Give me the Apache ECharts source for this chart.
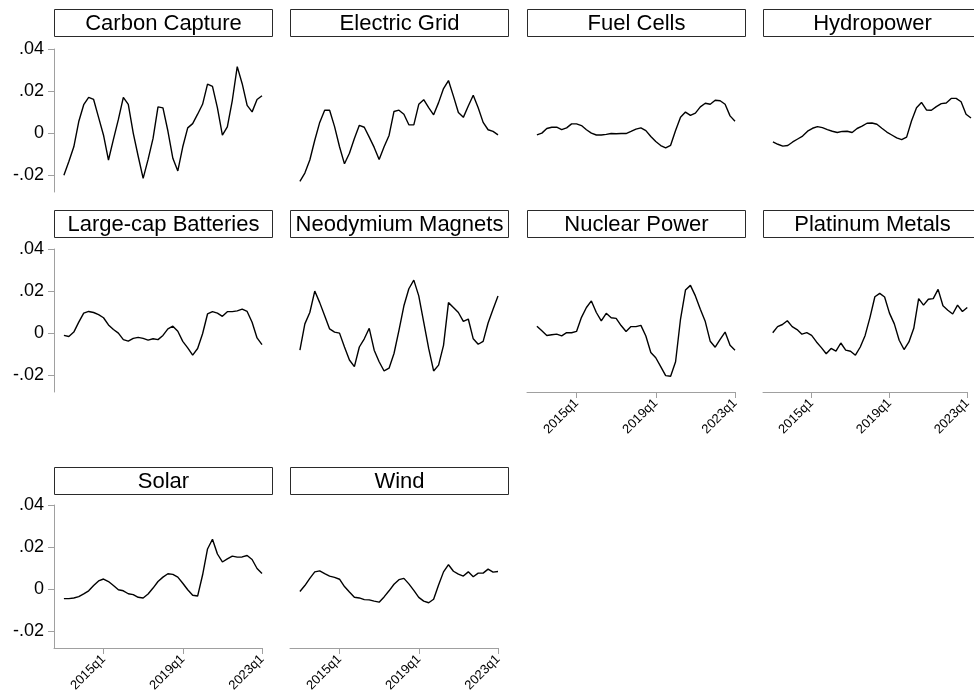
<!DOCTYPE html>
<html>
<head>
<meta charset="utf-8">
<script src="https://cdn.jsdelivr.net/npm/echarts@6/dist/echarts.min.js"></script>
<style>
  html, body { margin: 0; padding: 0; background: #fff; }
  #chart { width: 974px; height: 696px; }
</style>
</head>
<body>
<div id="chart"></div>
<script>
// Quarterly observations, 2013q1 – 2023q1
const quarters = [
  '2013q1','2013q2','2013q3','2013q4','2014q1','2014q2','2014q3','2014q4',
  '2015q1','2015q2','2015q3','2015q4','2016q1','2016q2','2016q3','2016q4',
  '2017q1','2017q2','2017q3','2017q4','2018q1','2018q2','2018q3','2018q4',
  '2019q1','2019q2','2019q3','2019q4','2020q1','2020q2','2020q3','2020q4',
  '2021q1','2021q2','2021q3','2021q4','2022q1','2022q2','2022q3','2022q4',
  '2023q1'
];

const panelNames = [
  'Carbon Capture', 'Electric Grid', 'Fuel Cells', 'Hydropower',
  'Large-cap Batteries', 'Neodymium Magnets', 'Nuclear Power', 'Platinum Metals',
  'Solar', 'Wind'
];

const carbonCapture = [
  -0.0200, -0.0135, -0.0065, 0.0055, 0.0135, 0.0170, 0.0160, 0.0075, -0.0010, -0.0128,
  -0.0030, 0.0065, 0.0170, 0.0137, 0.0000, -0.0110, -0.0215, -0.0125, -0.0025, 0.0125,
  0.0120, 0.0010, -0.0120, -0.0180, -0.0065, 0.0025, 0.0045, 0.0090, 0.0137, 0.0233,
  0.0222, 0.0120, -0.0010, 0.0030, 0.0155, 0.0316, 0.0235, 0.0132, 0.0101, 0.0160,
  0.0178
];
const electricGrid = [
  -0.0229, -0.0190, -0.0128, -0.0034, 0.0051, 0.0109, 0.0109, 0.0031, -0.0065, -0.0146,
  -0.0096, -0.0026, 0.0037, 0.0028, -0.0019, -0.0068, -0.0125, -0.0065, -0.0011, 0.0103,
  0.0109, 0.0090, 0.0040, 0.0039, 0.0137, 0.0159, 0.0121, 0.0087, 0.0145, 0.0212,
  0.0250, 0.0176, 0.0098, 0.0075, 0.0129, 0.0180, 0.0121, 0.0051, 0.0016, 0.0008,
  -0.0008
];
const fuelCells = [
  -0.0008, 0.0000, 0.0022, 0.0028, 0.0028, 0.0017, 0.0025, 0.0044, 0.0044, 0.0036,
  0.0016, 0.0000, -0.0009, -0.0009, -0.0006, -0.0002, -0.0003, -0.0002, -0.0002, 0.0008,
  0.0019, 0.0025, 0.0012, -0.0016, -0.0040, -0.0059, -0.0070, -0.0058, 0.0012, 0.0075,
  0.0100, 0.0084, 0.0095, 0.0125, 0.0142, 0.0137, 0.0156, 0.0154, 0.0137, 0.0082,
  0.0056
];
const hydropower = [
  -0.0042, -0.0053, -0.0062, -0.0059, -0.0042, -0.0028, -0.0014, 0.0009, 0.0023, 0.0031,
  0.0026, 0.0017, 0.0009, 0.0003, 0.0008, 0.0009, 0.0003, 0.0022, 0.0033, 0.0047,
  0.0048, 0.0042, 0.0023, 0.0005, -0.0009, -0.0023, -0.0031, -0.0019, 0.0059, 0.0121,
  0.0146, 0.0110, 0.0109, 0.0126, 0.0140, 0.0143, 0.0165, 0.0165, 0.0149, 0.0090,
  0.0072
];
const largeCapBatteries = [
  -0.0011, -0.0016, 0.0005, 0.0052, 0.0095, 0.0103, 0.0098, 0.0088, 0.0073, 0.0039,
  0.0017, 0.0000, -0.0031, -0.0038, -0.0025, -0.0020, -0.0025, -0.0033, -0.0027, -0.0031,
  -0.0011, 0.0020, 0.0033, 0.0009, -0.0039, -0.0070, -0.0105, -0.0073, -0.0003, 0.0091,
  0.0102, 0.0095, 0.0080, 0.0102, 0.0102, 0.0106, 0.0114, 0.0103, 0.0052, -0.0023,
  -0.0055
];
const neodymiumMagnets = [
  -0.0081, 0.0044, 0.0098, 0.0200, 0.0145, 0.0083, 0.0020, 0.0005, 0.0000, -0.0066,
  -0.0128, -0.0159, -0.0066, -0.0027, 0.0023, -0.0081, -0.0136, -0.0180, -0.0167, -0.0097,
  0.0013, 0.0130, 0.0211, 0.0252, 0.0177, 0.0052, -0.0073, -0.0180, -0.0152, -0.0058,
  0.0145, 0.0122, 0.0098, 0.0056, 0.0067, -0.0027, -0.0053, -0.0039, 0.0048, 0.0114,
  0.0177
];
const nuclearPower = [
  0.0033, 0.0011, -0.0011, -0.0008, -0.0005, -0.0013, 0.0002, 0.0002, 0.0008, 0.0075,
  0.0122, 0.0153, 0.0098, 0.0058, 0.0094, 0.0073, 0.0070, 0.0036, 0.0008, 0.0031,
  0.0031, 0.0037, -0.0014, -0.0092, -0.0117, -0.0159, -0.0202, -0.0205, -0.0136, 0.0067,
  0.0205, 0.0227, 0.0177, 0.0114, 0.0055, -0.0039, -0.0067, -0.0030, 0.0005, -0.0058,
  -0.0081
];
const platinumMetals = [
  0.0002, 0.0031, 0.0041, 0.0059, 0.0031, 0.0017, -0.0005, 0.0002, -0.0011, -0.0042,
  -0.0069, -0.0098, -0.0073, -0.0086, -0.0047, -0.0081, -0.0086, -0.0105, -0.0066, -0.0011,
  0.0075, 0.0173, 0.0189, 0.0172, 0.0095, 0.0044, -0.0034, -0.0078, -0.0042, 0.0023,
  0.0164, 0.0133, 0.0161, 0.0164, 0.0208, 0.0130, 0.0109, 0.0091, 0.0133, 0.0103,
  0.0122
];
const solar = [
  -0.0045, -0.0045, -0.0042, -0.0036, -0.0023, -0.0008, 0.0017, 0.0039, 0.0048, 0.0036,
  0.0017, -0.0003, -0.0008, -0.0022, -0.0026, -0.0039, -0.0042, -0.0023, 0.0005, 0.0036,
  0.0057, 0.0073, 0.0070, 0.0057, 0.0028, -0.0003, -0.0029, -0.0033, 0.0067, 0.0191,
  0.0237, 0.0167, 0.0129, 0.0144, 0.0157, 0.0152, 0.0153, 0.0160, 0.0141, 0.0098,
  0.0074
];
const wind = [
  -0.0011, 0.0017, 0.0051, 0.0082, 0.0087, 0.0074, 0.0062, 0.0056, 0.0047, 0.0012,
  -0.0014, -0.0039, -0.0042, -0.0050, -0.0051, -0.0057, -0.0062, -0.0037, -0.0008, 0.0023,
  0.0045, 0.0051, 0.0025, -0.0006, -0.0039, -0.0057, -0.0065, -0.0048, 0.0020, 0.0082,
  0.0116, 0.0085, 0.0071, 0.0062, 0.0082, 0.0059, 0.0076, 0.0076, 0.0095, 0.0081,
  0.0084
];

const panelSeries = [
  carbonCapture, electricGrid, fuelCells, hydropower,
  largeCapBatteries, neodymiumMagnets, nuclearPower, platinumMetals,
  solar, wind
];

const yTicks = [-0.02, 0, 0.02, 0.04];
const xTickLabels = ['2015q1', '2019q1', '2023q1'];

// quarter string <-> running quarter number
const qNum = s => { const [y, q] = s.split('q'); return (+y) * 4 + (+q) - 1; };
const qStr = n => Math.floor(n / 4) + 'q' + (Math.round(n - Math.floor(n / 4) * 4) + 1);
const yFmt = v => {
  if (Math.abs(v) < 1e-9) return '0';
  return (v < 0 ? '-' : '') + Math.abs(v).toFixed(2).replace(/^0/, '');
};

const FONT = '"Liberation Sans", Arial, Helvetica, sans-serif';

// panel geometry
const colLeft = [54, 290, 527, 763];
const rowTop = [49, 249, 505];
const titleTop = [9, 210, 467];
const plotW = 208, plotH = 143;
const titleW = 218, titleH = 27;
const xMin = qNum('2012q3'), xMax = qNum('2023q1');
const yMin = -0.028, yMax = 0.04;

// panels that carry the shared axes
const hasYAxis = i => i % 4 === 0;
const hasXAxis = i => [6, 7, 8, 9].includes(i);

const grids = [], xAxes = [], yAxes = [], series = [], graphics = [];

panelNames.forEach((name, i) => {
  const col = i % 4, row = Math.floor(i / 4);
  grids.push({ left: colLeft[col], top: rowTop[row], width: plotW, height: plotH, containLabel: false });

  const showX = hasXAxis(i);
  xAxes.push({
    type: 'value', gridIndex: i, min: xMin, max: xMax, position: 'bottom',
    splitLine: { show: false },
    axisLine: { show: showX, onZero: false, lineStyle: { color: '#a0a0a0', width: 1 } },
    axisTick: { show: showX, length: 6, lineStyle: { color: '#a0a0a0' },
                customValues: xTickLabels.map(qNum) },
    axisLabel: { show: showX, rotate: 45, margin: 9, fontSize: 13, color: '#000',
                 fontFamily: FONT, customValues: xTickLabels.map(qNum),
                 formatter: v => qStr(v) }
  });

  const showY = hasYAxis(i);
  yAxes.push({
    type: 'value', gridIndex: i, min: yMin, max: yMax, position: 'left',
    splitLine: { show: false },
    axisLine: { show: showY, onZero: false, lineStyle: { color: '#a0a0a0', width: 1 } },
    axisTick: { show: showY, length: 6, lineStyle: { color: '#a0a0a0' }, customValues: yTicks },
    axisLabel: { show: showY, margin: 10, fontSize: 18, color: '#000', fontFamily: FONT,
                 customValues: yTicks, formatter: yFmt }
  });

  series.push({
    type: 'line', xAxisIndex: i, yAxisIndex: i,
    data: quarters.map((q, k) => [qNum(q), panelSeries[i][k]]),
    showSymbol: false, symbol: 'none',
    lineStyle: { color: '#000', width: 1.4 },
    animation: false, silent: true
  });

  graphics.push({
    type: 'group', left: colLeft[col], top: titleTop[row],
    children: [
      { type: 'rect', shape: { x: 0.5, y: 0.5, width: titleW, height: titleH },
        style: { fill: '#fff', stroke: '#2a2a2a', lineWidth: 1 } },
      { type: 'text', x: titleW / 2 + 0.5, y: titleH / 2 + 1.5,
        style: { text: name, fill: '#000', font: '22px ' + FONT,
                 textAlign: 'center', textVerticalAlign: 'middle' } }
    ]
  });
});

const chart = echarts.init(document.getElementById('chart'), null, { renderer: 'canvas' });
chart.setOption({
  backgroundColor: '#fff',
  animation: false,
  grid: grids,
  xAxis: xAxes,
  yAxis: yAxes,
  series: series,
  graphic: graphics
});
</script>
</body>
</html>
